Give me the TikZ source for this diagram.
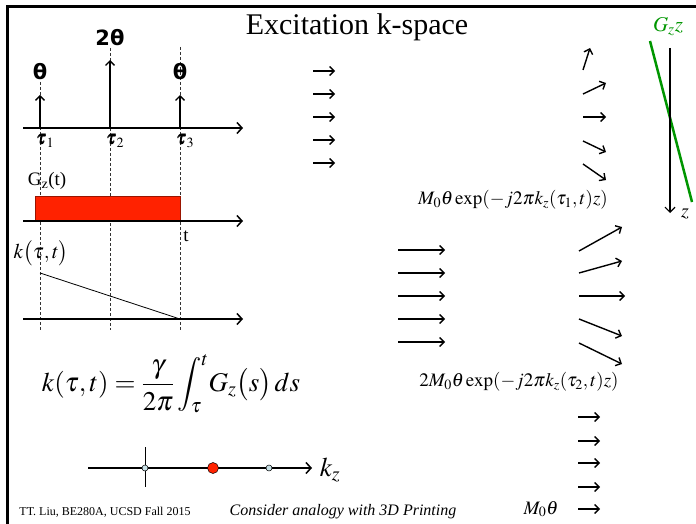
\documentclass[tikz,border=0pt]{standalone}
\usepackage{amsmath}
\usepackage{mathptmx}
\usepackage{bm}
\usepackage[no-math]{fontspec}
\setmainfont{Liberation Serif}
\newfontfamily\dvs{DejaVu Sans}
\usetikzlibrary{arrows.meta}
\definecolor{gzred}{RGB}{255,34,0}
\definecolor{gzgreen}{RGB}{0,150,0}
\definecolor{dotblue}{RGB}{200,225,230}
\tikzset{
  axisarrow/.style={line width=1.5pt,-{Straight Barb[length=5pt,width=11pt]}},
  vecarrow/.style={line width=1.4pt,-{Straight Barb[length=4.5pt,width=9pt]}},
  guide/.style={line width=0.8pt,densely dashed,black!80},
  lbl/.style={inner sep=0pt},
}
\begin{document}
\begin{tikzpicture}[x=1pt,y=-1pt]
\useasboundingbox (0,0) rectangle (696,524);
\fill[white] (0,0) rectangle (696,524);
% frame
\draw[line width=3pt] (696,7) -- (7,7) -- (7,524);
\node[lbl,font=\fontsize{30}{32}\selectfont] (title) at (357,27) {Excitation k-space};

% guides
\draw[guide] (40,82) -- (40,330);
\draw[guide] (110,48) -- (110,330);
\draw[guide] (180,47) -- (180,330);

% RF pulses
\draw[axisarrow] (23,128) -- (243,128);
\draw[vecarrow] (40,128) -- (40,95);
\draw[vecarrow] (110,128) -- (110,60);
\draw[vecarrow] (180,128) -- (180,95);
\node[lbl,font=\dvs\bfseries\fontsize{21}{23}\selectfont] (th1) at (40,72) {θ};
\node[lbl,font=\dvs\bfseries\fontsize{21}{23}\selectfont] (th2) at (110,38) {2θ};
\node[lbl,font=\dvs\bfseries\fontsize{21}{23}\selectfont] (th3) at (180,72) {θ};
\node[lbl,font=\fontsize{19}{21}\selectfont] (tau1) at (45,141) {$\bm{\tau}_{1}$};
\node[lbl,font=\fontsize{19}{21}\selectfont] (tau2) at (115,141) {$\bm{\tau}_{2}$};
\node[lbl,font=\fontsize{19}{21}\selectfont] (tau3) at (185,141) {$\bm{\tau}_{3}$};

% gradient
\node[lbl,font=\fontsize{19}{21}\selectfont] (gzt) at (47,181) {G$_{\mathrm{z}}$(t)};
\filldraw[fill=gzred,draw=gzred!60!black,line width=0.6pt] (35,221) -- (35,196) -- (180,196) -- (180,221);
\draw[axisarrow] (23,221) -- (243,221);
\node[lbl,font=\fontsize{19}{21}\selectfont] (tl) at (186,236) {t};

% k trajectory
\node[lbl,font=\fontsize{21}{23}\selectfont] (kl) at (41,253) {$k\big(\tau,t\big)$};
\draw[line width=0.8pt] (40,273) -- (180,319);
\draw[axisarrow] (23,319) -- (243,319);

% equation
\node[lbl,font=\fontsize{27}{29}\selectfont] (eq) at (171,384)
  {$k(\tau,t)=\dfrac{\gamma}{2\pi}\displaystyle\int_{\tau}^{t}\!G_z\big(s\big)\,ds$};

% kz axis
\draw[axisarrow] (88,468) -- (312,468);
\draw[line width=0.8pt] (145,447) -- (145,487);
\filldraw[fill=dotblue,draw=black,line width=0.5pt] (145,468) circle (3);
\filldraw[fill=dotblue,draw=black,line width=0.5pt] (269,468) circle (3);
\filldraw[fill=gzred,draw=black,line width=0.5pt] (213,468) circle (5.5);
\node[lbl,font=\fontsize{27}{29}\selectfont] (kz) at (330,470) {$k_z$};

% footer
\node[lbl,font=\fontsize{12}{14}\selectfont] (foot) at (105,512) {TT. Liu, BE280A, UCSD Fall 2015};
\node[lbl,font=\itshape\fontsize{16}{18}\selectfont] (note) at (343,512) {Consider analogy with 3D Printing};

% column of arrows 1
\foreach \yy in {71,94,117,140,163}
  \draw[vecarrow] (313,\yy) -- (335,\yy);
\draw[vecarrow] (583,70) -- (590,48);
\draw[vecarrow] (583,94) -- (606,83);
\draw[vecarrow] (583,117) -- (606,117);
\draw[vecarrow] (583,141) -- (606,152);
\draw[vecarrow] (583,164) -- (606,180);
\node[lbl,font=\fontsize{19}{21}\selectfont] (m1) at (513,200) {$M_0\theta\exp(-j2\pi k_z(\tau_1,t)z)$};

% gradient field
\draw[line width=2.5pt,gzgreen] (650,41) -- (692,202);
\draw[line width=1.2pt,-{Straight Barb[length=5pt,width=10pt]}] (670,48) -- (670,213);
\node[lbl,font=\fontsize{21}{23}\selectfont,text=gzgreen] (gzz) at (668,27) {$G_z z$};
\node[lbl,font=\fontsize{20}{22}\selectfont] (zl) at (685,214) {$z$};

% column of arrows 2
\foreach \yy in {250,273,296,319,342}
  \draw[vecarrow] (398,\yy) -- (445,\yy);
\draw[vecarrow] (579,251) -- (622,227);
\draw[vecarrow] (579,273) -- (622,261);
\draw[vecarrow] (579,296) -- (625,296);
\draw[vecarrow] (579,319) -- (622,336);
\draw[vecarrow] (579,343) -- (622,364);
\node[lbl,font=\fontsize{19}{21}\selectfont] (m2) at (519,382) {$2M_0\theta\exp(-j2\pi k_z(\tau_2,t)z)$};

% column of arrows 3
\foreach \yy in {417,441,463,487,509}
  \draw[vecarrow] (578,\yy) -- (600,\yy);
\node[lbl,font=\fontsize{19}{21}\selectfont] (m3) at (541,509) {$M_0\theta$};
\end{tikzpicture}
\end{document}
